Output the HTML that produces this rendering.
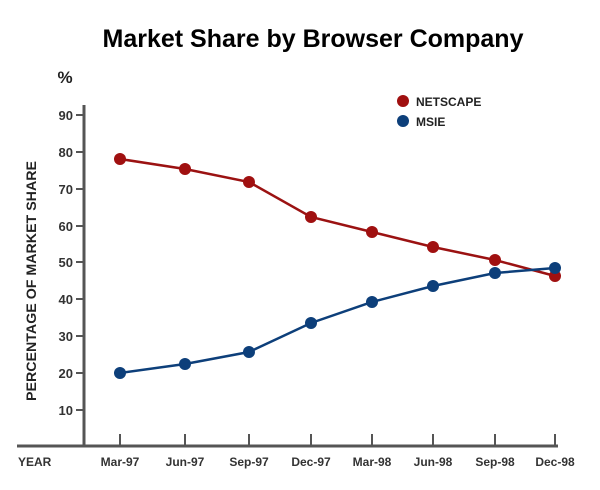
<!DOCTYPE html><html><head><style>body{margin:0;background:#fff}</style></head><body>
<svg width="600" height="485" xmlns="http://www.w3.org/2000/svg" font-family="Liberation Sans, sans-serif">
<text x="313" y="47" text-anchor="middle" font-size="25" font-weight="bold">Market Share by Browser Company</text>
<text x="65" y="83" text-anchor="middle" font-size="17" font-weight="bold" fill="#222">%</text>
<g stroke="#555" stroke-width="3"><line x1="84" y1="105" x2="84" y2="447"/><line x1="17" y1="446" x2="558" y2="446"/></g>
<g stroke="#555" stroke-width="2">
<line x1="76" y1="115" x2="84" y2="115"/><line x1="76" y1="152" x2="84" y2="152"/><line x1="76" y1="189" x2="84" y2="189"/><line x1="76" y1="226" x2="84" y2="226"/><line x1="76" y1="262" x2="84" y2="262"/><line x1="76" y1="299" x2="84" y2="299"/><line x1="76" y1="336" x2="84" y2="336"/><line x1="76" y1="373" x2="84" y2="373"/><line x1="76" y1="410" x2="84" y2="410"/>
<line x1="120" y1="434" x2="120" y2="446"/><line x1="185" y1="434" x2="185" y2="446"/><line x1="249" y1="434" x2="249" y2="446"/><line x1="311" y1="434" x2="311" y2="446"/><line x1="372" y1="434" x2="372" y2="446"/><line x1="433" y1="434" x2="433" y2="446"/><line x1="495" y1="434" x2="495" y2="446"/><line x1="555" y1="434" x2="555" y2="446"/>
</g>
<g font-size="13" font-weight="bold" fill="#333" text-anchor="end">
<text x="73" y="120">90</text><text x="73" y="157">80</text><text x="73" y="194">70</text><text x="73" y="231">60</text><text x="73" y="267">50</text><text x="73" y="304">40</text><text x="73" y="341">30</text><text x="73" y="378">20</text><text x="73" y="415">10</text>
</g>
<text transform="translate(36,281) rotate(-90)" text-anchor="middle" font-size="14" font-weight="bold" fill="#222" textLength="240" lengthAdjust="spacingAndGlyphs">PERCENTAGE OF MARKET SHARE</text>
<g font-size="12" font-weight="bold" fill="#333" text-anchor="middle">
<text x="18" y="466" text-anchor="start">YEAR</text>
<text x="120" y="466">Mar-97</text><text x="185" y="466">Jun-97</text><text x="249" y="466">Sep-97</text><text x="311" y="466">Dec-97</text><text x="372" y="466">Mar-98</text><text x="433" y="466">Jun-98</text><text x="495" y="466">Sep-98</text><text x="555" y="466">Dec-98</text>
</g>
<g stroke="#9b1212" stroke-width="2.5" fill="none"><polyline points="120,159 185,169 249,182 311,217 372,232 433,247 495,260 555,276"/></g>
<g fill="#a01010"><circle cx="120" cy="159" r="6"/><circle cx="185" cy="169" r="6"/><circle cx="249" cy="182" r="6"/><circle cx="311" cy="217" r="6"/><circle cx="372" cy="232" r="6"/><circle cx="433" cy="247" r="6"/><circle cx="495" cy="260" r="6"/><circle cx="555" cy="276" r="6"/></g>
<g stroke="#0d3f7a" stroke-width="2.5" fill="none"><polyline points="120,373 185,364 249,352 311,323 372,302 433,286 495,273 555,268"/></g>
<g fill="#0d3f7a"><circle cx="120" cy="373" r="6"/><circle cx="185" cy="364" r="6"/><circle cx="249" cy="352" r="6"/><circle cx="311" cy="323" r="6"/><circle cx="372" cy="302" r="6"/><circle cx="433" cy="286" r="6"/><circle cx="495" cy="273" r="6"/><circle cx="555" cy="268" r="6"/></g>
<circle cx="403" cy="101" r="6" fill="#a01010"/><circle cx="403" cy="121" r="6" fill="#0d3f7a"/>
<g font-size="12" font-weight="bold" fill="#222"><text x="416" y="106">NETSCAPE</text><text x="416" y="126">MSIE</text></g>
</svg></body></html>
